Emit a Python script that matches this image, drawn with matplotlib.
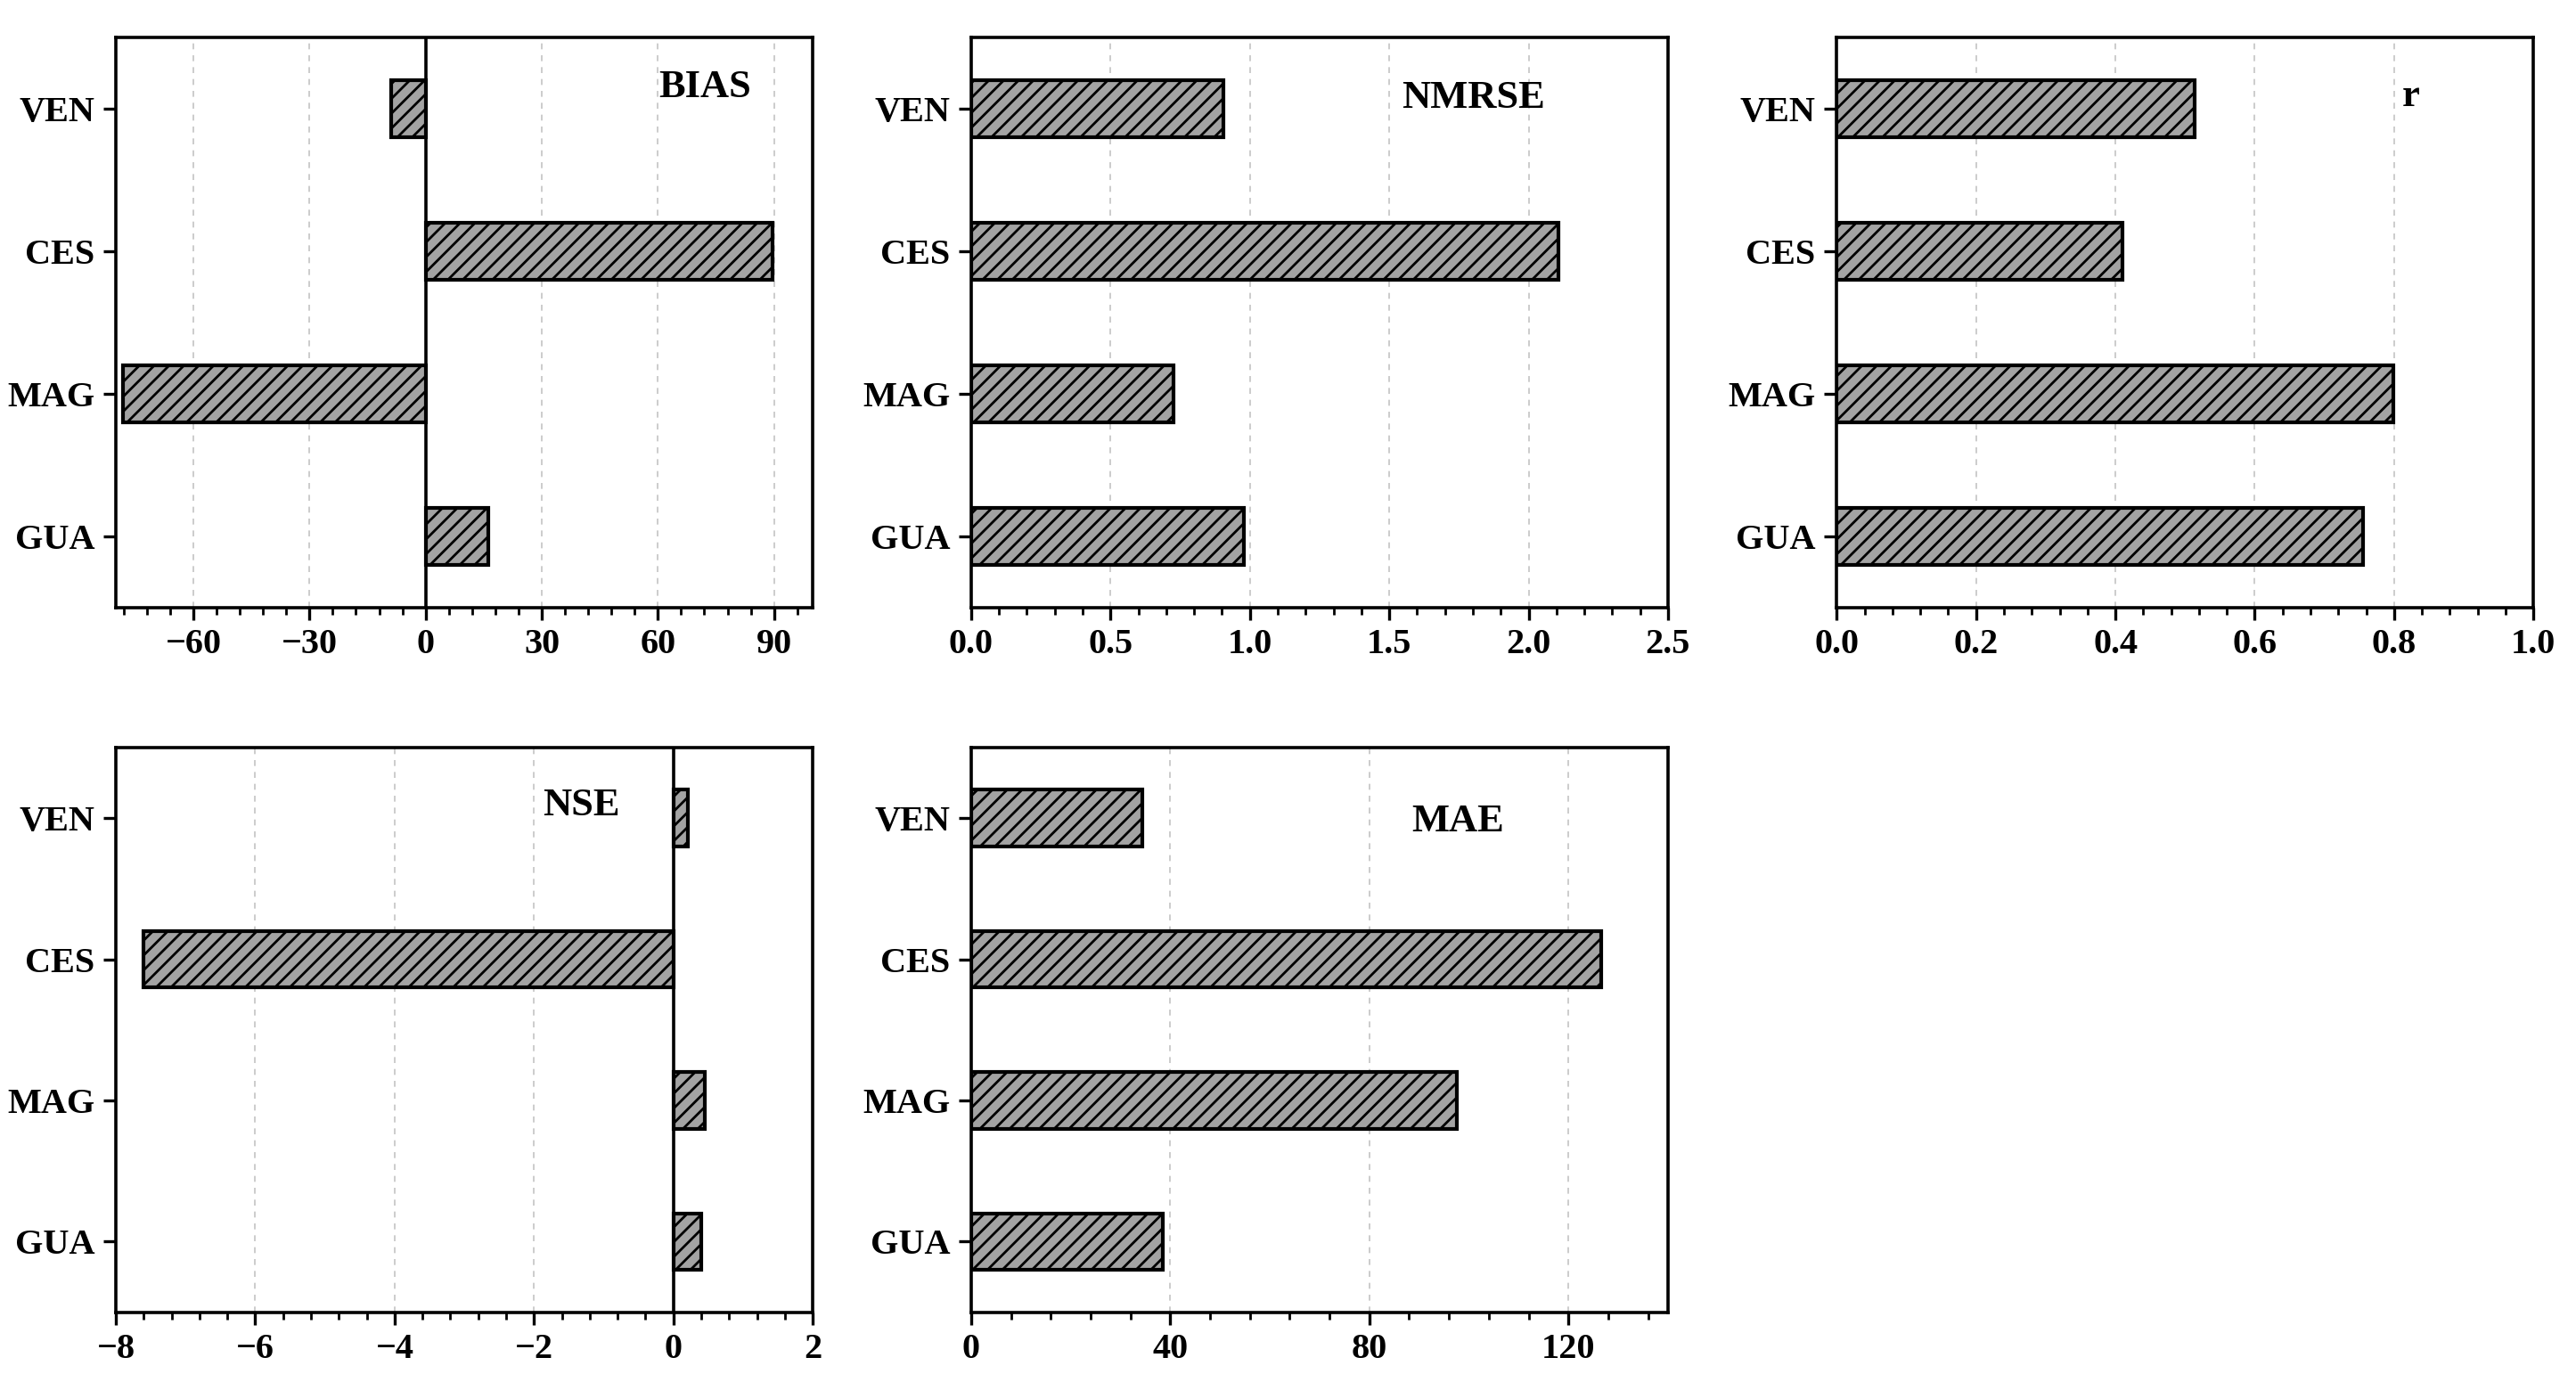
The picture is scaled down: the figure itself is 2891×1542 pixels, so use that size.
import matplotlib
matplotlib.use("Agg")
import matplotlib.pyplot as plt
from matplotlib.ticker import MultipleLocator, AutoMinorLocator
import numpy as np

plt.rcParams['font.family'] = ['Liberation Serif', 'DejaVu Serif']
plt.rcParams['font.weight'] = 'bold'
plt.rcParams['hatch.linewidth'] = 1.0

stations = ["GUA", "MAG", "CES", "VEN"]

bias = [16.3, -78.2, 89.7, -8.9]
nmrse = [0.98, 0.726, 2.108, 0.905]
r_vals = [0.756, 0.799, 0.410, 0.514]
nse = [0.40, 0.45, -7.60, 0.21]
mae = [38.5, 97.6, 126.5, 34.3]

# (name, values, xlim, major step, zero line, label x, label y, axes rect)
panels = [
    ("BIAS", bias, (-80, 100), 30, True, 0.845, 0.912, [0.045, 0.558, 0.2705, 0.415]),
    ("NMRSE", nmrse, (0, 2.5), 0.5, False, 0.721, 0.893, [0.377, 0.558, 0.2705, 0.415]),
    ("r", r_vals, (0, 1.0), 0.2, False, 0.824, 0.897, [0.713, 0.558, 0.2705, 0.415]),
    ("NSE", nse, (-8, 2), 2, True, 0.668, 0.897, [0.045, 0.045, 0.2705, 0.411]),
    ("MAE", mae, (0, 140), 40, False, 0.698, 0.869, [0.377, 0.045, 0.2705, 0.411]),
]


def draw_panel(fig, name, values, xlim, step, zero_line, lx, ly, rect):
    ax = fig.add_axes(rect)
    y = np.arange(len(stations))
    ax.barh(y, values, height=0.4, color="#a3a3a3", edgecolor="black",
            linewidth=1.5, hatch="////", zorder=3)
    if zero_line:
        ax.axvline(0, color="black", linewidth=1.3, zorder=4)
    ax.set_xlim(xlim)
    ax.set_ylim(-0.5, 3.5)
    ax.set_yticks(y)
    ax.set_yticklabels(stations)
    ax.xaxis.set_major_locator(MultipleLocator(step))
    ax.xaxis.set_minor_locator(AutoMinorLocator(5))
    ax.grid(True, which="major", axis="x", color="#c4c4c4",
            linewidth=0.6, dashes=(4, 4), zorder=0)
    ax.tick_params(axis="both", which="major", labelsize=14.5, width=1.2, length=5)
    ax.tick_params(axis="x", which="minor", width=1.0, length=3)
    for lbl in ax.get_xticklabels() + ax.get_yticklabels():
        lbl.set_fontweight("bold")
    for spine in ax.spines.values():
        spine.set_linewidth(1.3)
    ax.text(lx, ly, name, transform=ax.transAxes, ha="center", va="center",
            fontsize=16, fontweight="bold")
    return ax


fig = plt.figure(figsize=(14.455, 7.71), dpi=200)
for p in panels:
    draw_panel(fig, *p)
fig.savefig("out.png", dpi=200, facecolor="white")
